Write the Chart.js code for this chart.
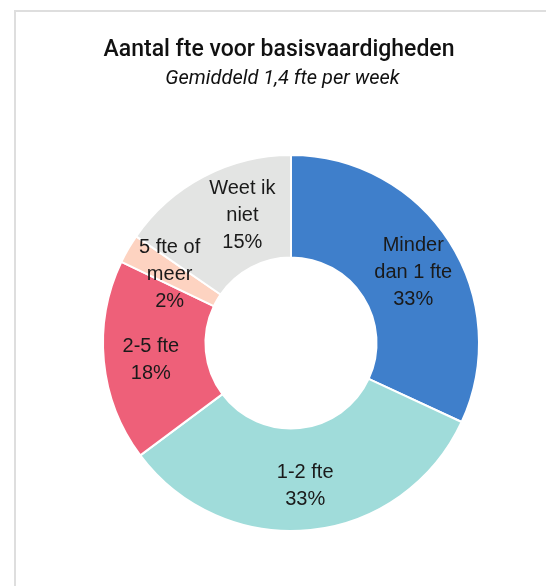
<!DOCTYPE html>
<html>
<head>
<meta charset="utf-8">
<script src="https://cdn.jsdelivr.net/npm/chart.js@4/dist/chart.umd.min.js"></script>
<style>
  html, body { margin: 0; padding: 0; background: #fff; }
  body { width: 546px; height: 586px; position: relative; overflow: hidden; }
  #frame { position: absolute; left: 14px; top: 10px; width: 600px; height: 640px;
           border-left: 2px solid #dedede; border-top: 2px solid #dedede; box-sizing: border-box; }
  #title { position: absolute; left: 0; width: 558px; top: 35px; text-align: center;
           font-family: Roboto, sans-serif; font-size: 23px; font-weight: 500; color: #111; line-height: 28px; }
  #subtitle { position: absolute; left: 0; width: 565px; top: 65px; text-align: center;
           font-family: Roboto, sans-serif; font-style: italic; font-size: 20px; color: #111; line-height: 24px; }
  #wrap { position: absolute; left: 0; top: 0; width: 546px; height: 586px; }
</style>
</head>
<body>
<div id="frame"></div>
<div id="wrap"><canvas id="c" width="546" height="586"></canvas></div>
<div id="title">Aantal fte voor basisvaardigheden</div>
<div id="subtitle">Gemiddeld 1,4 fte per week</div>
<script>
const categories = [["Minder", "dan 1 fte"], ["1-2 fte"], ["2-5 fte"], ["5 fte of", "meer"], ["Weet ik", "niet"]];
const shareValues = [31.9, 32.9, 17.3, 2.5, 15.4];
const percentLabels = ["33%", "33%", "18%", "2%", "15%"];
const sliceColors = ["#3f7fcb", "#a0dcda", "#ee6079", "#fdd3c1", "#e3e4e3"];

const labelPlugin = {
  id: 'sliceLabels',
  afterDatasetsDraw(chart, args, opts) {
    const ctx = chart.ctx;
    const meta = chart.getDatasetMeta(0);
    ctx.save();
    ctx.font = opts.font;
    ctx.fillStyle = opts.color;
    ctx.textAlign = 'center';
    ctx.textBaseline = 'middle';
    meta.data.forEach((arc, i) => {
      const p = arc.getProps(['x', 'y', 'startAngle', 'endAngle', 'innerRadius', 'outerRadius'], true);
      const a = (p.startAngle + p.endAngle) / 2;
      const r = (p.innerRadius + p.outerRadius) / 2;
      const nudge = opts.nudges[i] || [0, 0];
      const cx = p.x + Math.cos(a) * r + nudge[0];
      const cy = p.y + Math.sin(a) * r + nudge[1];
      const lines = categories[i].concat([percentLabels[i]]);
      const lh = opts.lineHeight;
      const y0 = cy - (lines.length - 1) * lh / 2;
      lines.forEach((t, k) => ctx.fillText(t, cx, y0 + k * lh));
    });
    ctx.restore();
  }
};

new Chart(document.getElementById('c'), {
  type: 'doughnut',
  data: {
    labels: categories.map(c => c.join(' ')),
    datasets: [{
      data: shareValues,
      backgroundColor: sliceColors,
      borderColor: '#ffffff',
      borderWidth: 2,
      hoverOffset: 0
    }]
  },
  options: {
    responsive: false,
    animation: false,
    radius: 188,
    cutout: '45.5%',
    layout: { padding: { left: 36, right: 0, top: 108, bottom: 8 } },
    plugins: {
      legend: { display: false },
      tooltip: { enabled: false },
      title: { display: false },
      sliceLabels: {
        font: '20px "Liberation Sans", Arial, sans-serif',
        color: '#1a1a1a',
        lineHeight: 27,
        nudges: [[7, 3], [0, 7], [-4, 4], [-3, 0], [15, -6]]
      }
    }
  },
  plugins: [labelPlugin]
});
</script>
</body>
</html>
